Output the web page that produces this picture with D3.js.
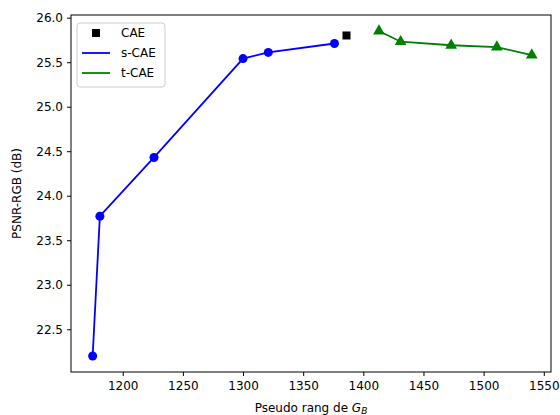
<!DOCTYPE html>
<html>
<head>
<meta charset="utf-8">
<script src="https://d3js.org/d3.v7.min.js"></script>
<style>
  body { margin: 0; background: #fff; }
  text { font-family: "DejaVu Sans", sans-serif; }
</style>
</head>
<body>
<div id="chart"></div>
<script>
// Data
const sX = [1175, 1181, 1226, 1300, 1321, 1376];
const sY = [22.20, 23.77, 24.43, 25.54, 25.61, 25.71];
const caeX = [1386];
const caeY = [25.80];
const tX = [1413, 1431, 1473, 1511, 1540];
const tY = [25.85, 25.73, 25.69, 25.67, 25.58];
const xTicks = [1200, 1250, 1300, 1350, 1400, 1450, 1500, 1550];
const yTicks = [22.5, 23.0, 23.5, 24.0, 24.5, 25.0, 25.5, 26.0];

const width = 560, height = 415;
const margin = { top: 15, right: 9, bottom: 43, left: 71 };

const svg = d3.select("#chart").append("svg")
  .attr("width", width).attr("height", height);

const x = d3.scaleLinear().domain([1157, 1556]).range([margin.left, width - margin.right]);
const y = d3.scaleLinear().domain([22.02, 26.03]).range([height - margin.bottom, margin.top]);

// axes
svg.append("g")
  .attr("transform", `translate(0,${height - margin.bottom})`)
  .call(d3.axisBottom(x).tickValues(xTicks).tickFormat(d3.format("d")).tickSizeOuter(0).tickSize(4).tickPadding(5))
  .call(g => g.select(".domain").remove())
  .call(g => g.selectAll("text").attr("font-size", 12).attr("fill", "#000").attr("font-family", "DejaVu Sans"));

svg.append("g")
  .attr("transform", `translate(${margin.left},0)`)
  .call(d3.axisLeft(y).tickValues(yTicks).tickFormat(d3.format(".1f")).tickSizeOuter(0).tickSize(4).tickPadding(4))
  .call(g => g.select(".domain").remove())
  .call(g => g.selectAll("text").attr("font-size", 12).attr("fill", "#000").attr("font-family", "DejaVu Sans"));

svg.append("rect")
  .attr("x", margin.left).attr("y", margin.top)
  .attr("width", width - margin.left - margin.right)
  .attr("height", height - margin.top - margin.bottom)
  .attr("fill", "none").attr("stroke", "#000").attr("stroke-width", 1);

// labels
const xl = svg.append("text")
  .attr("x", (margin.left + width - margin.right) / 2)
  .attr("y", 412)
  .attr("text-anchor", "middle")
  .attr("font-size", 12);
xl.append("tspan").text("Pseudo rang de ");
xl.append("tspan").attr("font-style", "italic").text("G");
xl.append("tspan").attr("font-style", "italic").attr("font-size", 9).attr("dy", 2).text("B");

svg.append("text")
  .attr("transform", `translate(21,${(margin.top + height - margin.bottom) / 2}) rotate(-90)`)
  .attr("text-anchor", "middle")
  .attr("font-size", 12)
  .text("PSNR-RGB (dB)");

// series
const line = d3.line().x(d => x(d[0])).y(d => y(d[1]));
const sData = d3.zip(sX, sY);
const tData = d3.zip(tX, tY);
const cData = d3.zip(caeX, caeY);

svg.append("path").datum(sData).attr("d", line)
  .attr("fill", "none").attr("stroke", "blue").attr("stroke-width", 1.8);
svg.selectAll(".sdot").data(sData).join("circle")
  .attr("cx", d => x(d[0])).attr("cy", d => y(d[1])).attr("r", 4.5).attr("fill", "blue");

svg.append("path").datum(tData).attr("d", line)
  .attr("fill", "none").attr("stroke", "green").attr("stroke-width", 1.8);
const tri = d3.symbol().type(d3.symbolTriangle).size(60);
svg.selectAll(".tdot").data(tData).join("path")
  .attr("transform", d => `translate(${x(d[0])},${y(d[1])})`)
  .attr("d", tri).attr("fill", "green");

svg.selectAll(".cdot").data(cData).join("rect")
  .attr("x", d => x(d[0]) - 4).attr("y", d => y(d[1]) - 4)
  .attr("width", 8).attr("height", 8).attr("fill", "#000");

// legend
const lg = svg.append("g").attr("transform", "translate(77,23)");
lg.append("rect").attr("width", 88).attr("height", 64).attr("rx", 3)
  .attr("fill", "#fff").attr("fill-opacity", 0.8).attr("stroke", "#ccc");
lg.append("rect").attr("x", 15).attr("y", 6).attr("width", 8).attr("height", 8).attr("fill", "#000");
lg.append("line").attr("x1", 5).attr("x2", 33).attr("y1", 30).attr("y2", 30).attr("stroke", "blue").attr("stroke-width", 1.8);
lg.append("line").attr("x1", 5).attr("x2", 33).attr("y1", 50).attr("y2", 50).attr("stroke", "green").attr("stroke-width", 1.8);
const names = ["CAE", "s-CAE", "t-CAE"];
lg.selectAll(".lt").data(names).join("text")
  .attr("x", 44).attr("y", (d, i) => 14 + i * 20)
  .attr("font-size", 12).text(d => d);
</script>
</body>
</html>
